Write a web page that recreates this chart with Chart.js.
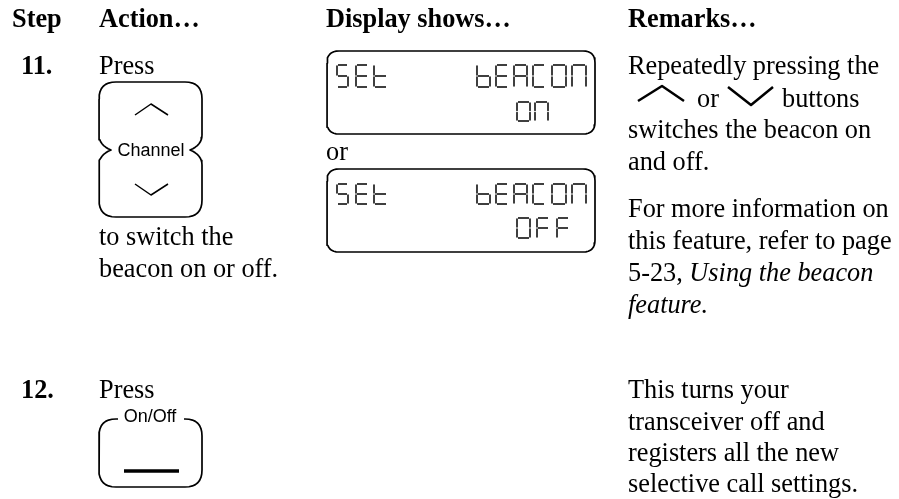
<!DOCTYPE html>
<html>
<head>
<meta charset="utf-8">
<script src="https://cdn.jsdelivr.net/npm/chart.js@4"></script>
<style>
  html, body { margin: 0; padding: 0; background: #fff; }
  canvas { display: block; }
</style>
</head>
<body>
<canvas id="page" width="899" height="499"></canvas>
<script>
"use strict";
// ? PAGE CONTENT
// ! ========================== ! \\
const headerLabels = ["Step", "Action…", "Display shows…", "Remarks…"];
const headerX = [12, 99, 326, 628];
const stepLabels = ["11.", "12."];
const stepY = [74, 398];

const actionText = [
  ["Press", 74],
  ["to switch the", 245],
  ["beacon on or off.", 277],
  ["Press", 398],
];
const displayOr = ["or", 160];
const remarkText = [
  ["Repeatedly pressing the", 628, 74],
  ["or", 697, 107],
  ["buttons", 782, 107],
  ["switches the beacon on", 628, 138],
  ["and off.", 628, 170],
  ["For more information on", 628, 217],
  ["this feature, refer to page", 628, 249],
  ["This turns your", 628, 398],
  ["transceiver off and", 628, 430],
  ["registers all the new", 628, 461],
  ["selective call settings.", 628, 492],
];
// the two lines with italic runs
const remarkPageRef = ["5-23, ", "Using the beacon"];
const remarkPageRefY = 281;
const remarkItalicEnd = ["feature.", 313];

const buttonLabels = [
  ["Channel", 151, 156],
  ["On/Off", 150, 422],
];

// lcd rows: text, first digit x, top y, digit width, digit height
const lcdRows = [
  [["S", 337, 65, 11, 22], ["E", 356, 65, 12, 22], ["t", 374, 65, 13, 22]],
  [["b", 477, 65, 13, 22], ["E", 496, 65, 12, 22], ["A", 514, 65, 13, 22], ["C", 533, 65, 12, 22], ["O", 552, 65, 14, 22], ["n", 572, 65, 14, 22]],
  [["O", 517, 102, 13, 19], ["n", 535, 102, 13, 19]],
  [["S", 337, 184, 11, 20], ["E", 356, 184, 12, 20], ["t", 374, 184, 13, 20]],
  [["b", 477, 184, 13, 20], ["E", 496, 184, 12, 20], ["A", 514, 184, 13, 20], ["C", 533, 184, 12, 20], ["O", 552, 184, 14, 20], ["n", 572, 184, 14, 20]],
  [["O", 517, 218, 13, 20], ["F", 537, 218, 12, 20], ["F", 557, 218, 12, 20]],
];
const lcdSegments = { S: "afgcd", E: "afged", t: "fged", b: "fgedc", A: "abcefg", C: "afed", O: "abcdef", n: "abcef", F: "afge" };

const chevrons = [
  [[135, 115], [151, 104], [168, 115]],
  [[135, 184], [151, 195], [168, 184]],
];
const remarkChevrons = [
  [[638, 101], [662, 86], [684, 101]],
  [[728, 87], [751, 105], [773, 87]],
];
const onOffBar = [[124, 471], [179, 471]];

// ? HELPERS
// ! ========================== ! \\
const gap = { x: null, y: null };

function toPoints(list) {
  return list.map((p) => ({ x: p[0], y: p[1] }));
}

// curve from a to b, bulging toward the corner c
function corner(a, c, b) {
  const pts = [];
  for (let i = 0; i <= 8; i++) {
    const t = i / 8;
    const u = 1 - t;
    pts.push({
      x: u * u * a[0] + 2 * u * t * c[0] + t * t * b[0],
      y: u * u * a[1] + 2 * u * t * c[1] + t * t * b[1],
    });
  }
  return pts;
}

function lcdBox(x0, y0, x1, y1, r) {
  return [
    ...corner([x0, y0 + r], [x0, y0], [x0 + r, y0]),
    ...corner([x1 - r, y0], [x1, y0], [x1, y0 + r]),
    ...corner([x1, y1 - r], [x1, y1], [x1 - r, y1]),
    ...corner([x0 + r, y1], [x0, y1], [x0, y1 - r]),
    { x: x0, y: y0 + r },
  ];
}

function channelOutline() {
  const l = 99, r = 202, t = 82, b = 217, rad = 17, mid = 150;
  return [
    ...corner([l, t + rad], [l, t], [l + rad, t]),
    ...corner([r - rad, t], [r, t], [r, t + rad]),
    ...corner([r, mid - 15], [r, mid - 5], [r - 12, mid]),
    ...corner([r - 12, mid], [r, mid + 5], [r, mid + 15]),
    ...corner([r, b - rad], [r, b], [r - rad, b]),
    ...corner([l + rad, b], [l, b], [l, b - rad]),
    ...corner([l, mid + 15], [l, mid + 5], [l + 12, mid]),
    ...corner([l + 12, mid], [l, mid - 5], [l, mid - 15]),
    { x: l, y: t + rad },
  ];
}

function onOffOutline() {
  const l = 99, r = 202, t = 419, b = 487, rad = 17;
  return [
    { x: 118, y: t },
    ...corner([l + rad, t], [l, t], [l, t + rad]),
    ...corner([l, b - rad], [l, b], [l + rad, b]),
    ...corner([r - rad, b], [r, b], [r, b - rad]),
    ...corner([r, t + rad], [r, t], [r - rad, t]),
    { x: 184, y: t },
  ];
}

function lcdStrokes() {
  const out = [];
  lcdRows.forEach((row) => {
    row.forEach(([ch, x, y, w, h]) => {
      const m = y + h / 2;
      const e = 1;
      const segs = {
        a: [[x + e, y], [x + w - e, y]],
        b: [[x + w, y + e], [x + w, m - e]],
        c: [[x + w, m + e], [x + w, y + h - e]],
        d: [[x + e, y + h], [x + w - e, y + h]],
        e: [[x, m + e], [x, y + h - e]],
        f: [[x, y + e], [x, m - e]],
        g: [[x + e, m], [x + w - e, m]],
      };
      [...lcdSegments[ch]].forEach((s) => {
        out.push(...toPoints(segs[s]), gap);
      });
    });
  });
  return out;
}

function strokes(list) {
  const out = [];
  list.forEach((l) => out.push(...toPoints(l), gap));
  return out;
}

function lineSet(data, width) {
  return {
    data: data,
    showLine: true,
    spanGaps: false,
    pointRadius: 0,
    borderColor: "#000",
    borderWidth: width,
    tension: 0,
    borderJoinStyle: "round",
    clip: false,
  };
}

// ? TEXT PLUGIN
// ! ========================== ! \\
const SERIF = '"Liberation Serif", "Times New Roman", serif';
const SANS = '"Liberation Sans", Arial, sans-serif';
const BODY = 26.3;

const pageText = {
  id: "pageText",
  afterDatasetsDraw(chart) {
    const { ctx, scales } = chart;
    const put = (s, x, y, font, align) => {
      ctx.font = font;
      ctx.textAlign = align || "left";
      ctx.fillText(s, scales.x.getPixelForValue(x), scales.y.getPixelForValue(y));
      return ctx.measureText(s).width;
    };
    ctx.save();
    ctx.fillStyle = "#000";
    ctx.textBaseline = "alphabetic";

    headerLabels.forEach((s, i) => put(s, headerX[i], 27, `bold ${BODY}px ${SERIF}`));
    stepLabels.forEach((s, i) => put(s, 21, stepY[i], `bold ${BODY}px ${SERIF}`));
    actionText.forEach(([s, y]) => put(s, 99, y, `${BODY}px ${SERIF}`));
    put(displayOr[0], 326, displayOr[1], `${BODY}px ${SERIF}`);
    remarkText.forEach(([s, x, y]) => put(s, x, y, `${BODY}px ${SERIF}`));

    const w = put(remarkPageRef[0], 628, remarkPageRefY, `${BODY}px ${SERIF}`);
    put(remarkPageRef[1], 628 + w, remarkPageRefY, `italic ${BODY}px ${SERIF}`);
    put(remarkItalicEnd[0], 628, remarkItalicEnd[1], `italic ${BODY}px ${SERIF}`);

    buttonLabels.forEach(([s, x, y]) => put(s, x, y, `18px ${SANS}`, "center"));
    ctx.restore();
  },
};

// ? CHART
// ! ========================== ! \\
new Chart(document.getElementById("page").getContext("2d"), {
  type: "scatter",
  data: {
    datasets: [
      lineSet(channelOutline(), 1.7),
      lineSet(onOffOutline(), 1.7),
      lineSet(lcdBox(327, 51, 595, 134, 12), 1.7),
      lineSet(lcdBox(327, 169, 595, 252, 12), 1.7),
      lineSet(strokes(chevrons), 1.5),
      lineSet(strokes(remarkChevrons), 2.5),
      lineSet(toPoints(onOffBar), 3.5),
      lineSet(lcdStrokes(), 1.5),
    ],
  },
  options: {
    responsive: false,
    animation: false,
    layout: { padding: 0 },
    plugins: { legend: { display: false }, tooltip: { enabled: false } },
    scales: {
      x: { type: "linear", min: 0, max: 899, display: false },
      y: { type: "linear", min: 0, max: 499, reverse: true, display: false },
    },
  },
  plugins: [pageText],
});
</script>
</body>
</html>
